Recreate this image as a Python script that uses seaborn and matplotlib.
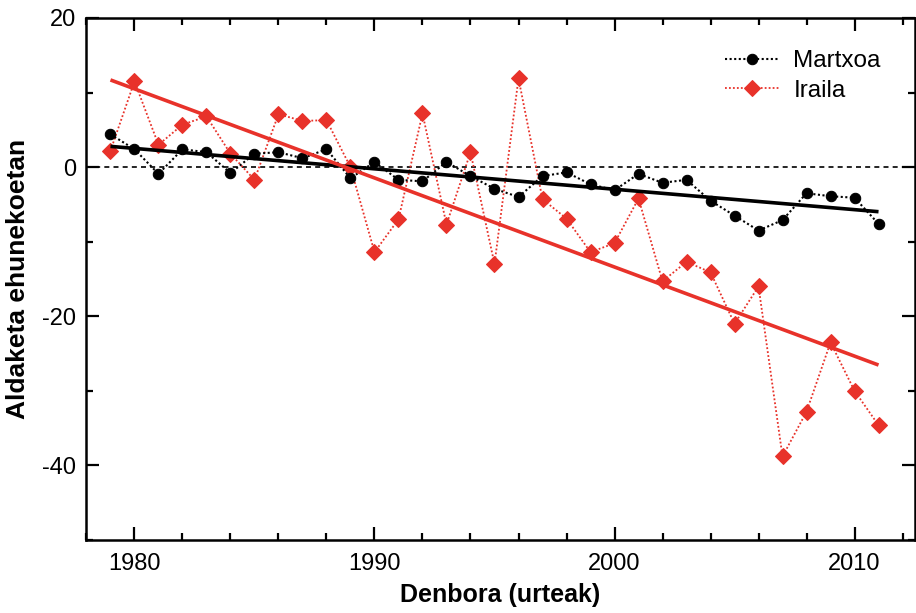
import numpy as np
import pandas as pd
import matplotlib
matplotlib.use("Agg")
import matplotlib.pyplot as plt
from matplotlib.ticker import MultipleLocator
import seaborn as sns

years = list(range(1979, 2012))
martxoa = [4.4, 2.4, -0.9, 2.4, 2.0, -0.8, 1.8, 2.0, 1.2, 2.4, -1.5, 0.7,
           -1.7, -1.9, 0.7, -1.2, -2.9, -4.0, -1.2, -0.7, -2.3, -3.1, -0.9,
           -2.1, -1.7, -4.5, -6.5, -8.5, -7.1, -3.5, -3.9, -4.1, -7.6]
iraila = [2.2, 11.5, 3.0, 5.7, 6.8, 1.8, -1.7, 7.1, 6.2, 6.3, 0.0, -11.4,
          -7.0, 7.2, -7.7, 2.0, -13.0, 11.9, -4.3, -6.9, -11.4, -10.2, -4.2,
          -15.3, -12.7, -14.1, -21.0, -16.0, -38.8, -32.8, -23.5, -30.0, -34.6]
series_names = ["Martxoa", "Iraila"]
colors = {"Martxoa": "black", "Iraila": "#e8322a"}
xlabel = "Denbora (urteak)"
ylabel = "Aldaketa ehunekoetan"

df = pd.DataFrame({"year": years * 2,
                   "value": martxoa + iraila,
                   "series": ["Martxoa"] * len(years) + ["Iraila"] * len(years)})

sns.set_style("ticks")
plt.rcParams["font.family"] = ["Liberation Sans", "DejaVu Sans"]
plt.rcParams["axes.unicode_minus"] = False
plt.rcParams["text.color"] = "black"
plt.rcParams["axes.labelcolor"] = "black"
plt.rcParams["xtick.color"] = "black"
plt.rcParams["ytick.color"] = "black"

fig = plt.figure(figsize=(9.16, 6.13), dpi=100)
ax = fig.add_axes([86 / 916, 73 / 613, (915 - 86) / 916, (540 - 18) / 613])

ax.axhline(0, color="black", lw=1.2, ls=(0, (3, 2.5)), zorder=1)

# data series
sns.lineplot(data=df[df.series == "Martxoa"], x="year", y="value", ax=ax,
             color="black", lw=1.5, ls=(0, (1, 1.2)), marker="o", ms=7.5,
             mec="black", mfc="black", label="Martxoa", zorder=4)
sns.lineplot(data=df[df.series == "Iraila"], x="year", y="value", ax=ax,
             color=colors["Iraila"], lw=1.3, ls=(0, (1, 1.2)), marker="D", ms=8.5,
             mec=colors["Iraila"], mfc=colors["Iraila"], label="Iraila", zorder=3)

# trend lines
for name in series_names:
    sub = df[df.series == name]
    sns.regplot(data=sub, x="year", y="value", ax=ax, scatter=False, ci=None,
                truncate=True, color=colors[name],
                line_kws={"lw": 2.6, "zorder": 6, "solid_capstyle": "butt"})

ax.set_xlim(1977.98, 2012.52)
ax.set_ylim(-50, 20)
ax.xaxis.set_major_locator(MultipleLocator(10))
ax.xaxis.set_minor_locator(MultipleLocator(2))
ax.yaxis.set_major_locator(MultipleLocator(20))
ax.yaxis.set_minor_locator(MultipleLocator(10))
ax.tick_params(which="both", direction="in", top=True, right=True, width=1.6,
               labelsize=17, colors="black")
ax.tick_params(which="major", length=9.5)
ax.tick_params(which="minor", length=5)
ax.tick_params(axis="x", pad=9)
ax.tick_params(axis="y", pad=7)
for s in ax.spines.values():
    s.set_linewidth(1.8)
    s.set_color("black")

ax.set_xlabel(xlabel, fontsize=18, fontweight="bold", labelpad=6, color="black")
ax.set_ylabel(ylabel, fontsize=19, fontweight="bold", labelpad=9, color="black")

leg = ax.legend(loc="upper right", bbox_to_anchor=(0.985, 0.98), frameon=False,
                fontsize=17.5, handlelength=2.2, handletextpad=0.6,
                labelspacing=0.3)
for t in leg.get_texts():
    t.set_color("black")

fig.savefig("out.png", dpi=100)
